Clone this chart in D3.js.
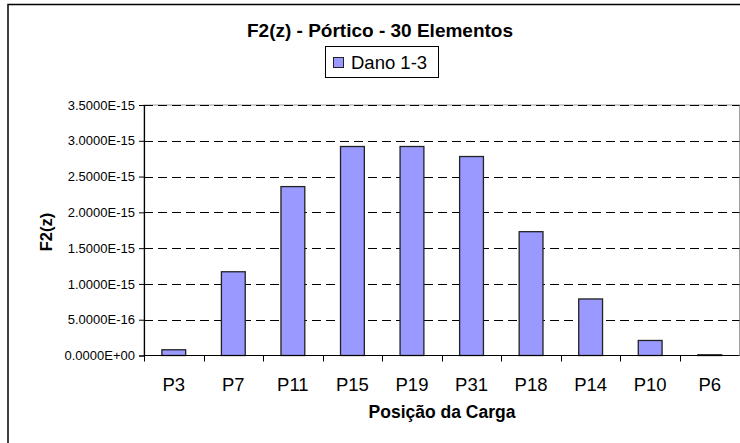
<!DOCTYPE html>
<html>
<head>
<meta charset="utf-8">
<script src="https://cdn.jsdelivr.net/npm/d3@7"></script>
<style>
  html, body { margin: 0; padding: 0; background: #fff; }
  svg { display: block; font-family: "Liberation Sans", Arial, sans-serif; }
</style>
</head>
<body>
<svg id="chart" width="740" height="443"></svg>
<script>
// Load positions along the frame and the F2(z) value for damage case 1-3
const categories = ["P3", "P7", "P11", "P15", "P19", "P31", "P18", "P14", "P10", "P6"];
const values = [8.0e-17, 1.17e-15, 2.36e-15, 2.92e-15, 2.92e-15, 2.78e-15, 1.73e-15, 7.9e-16, 2.1e-16, 1.0e-17];
const yTicks = [0, 5e-16, 1e-15, 1.5e-15, 2e-15, 2.5e-15, 3e-15, 3.5e-15];
const seriesName = "Dano 1-3";
const titleText = "F2(z) - Pórtico - 30 Elementos";
const xTitle = "Posição da Carga";
const yTitle = "F2(z)";

const svg = d3.select("#chart");
const W = 740, H = 443;
const plot = { left: 144, right: 739.5, top: 105, bottom: 355.5 };
const barFill = "#9999ff";

// Chart frame
svg.append("rect")
  .attr("x", 8).attr("y", 4.5)
  .attr("width", W + 20).attr("height", H + 20)
  .attr("fill", "#fff").attr("stroke", "#000").attr("stroke-width", 1.5);

const x = d3.scaleBand()
  .domain(categories)
  .range([plot.left, plot.right])
  .paddingInner(0.6)
  .paddingOuter(0.3);

const y = d3.scaleLinear()
  .domain([0, 3.5e-15])
  .range([plot.bottom, plot.top]);

const fmt = v => {
  const s = (+v).toExponential(4).toUpperCase();
  return s.replace(/E([+-])(\d)$/, "E$10$2");
};

// Plot area border
svg.append("rect")
  .attr("x", plot.left).attr("y", plot.top)
  .attr("width", plot.right - plot.left).attr("height", plot.bottom - plot.top)
  .attr("fill", "none").attr("stroke", "#a0a0a0").attr("stroke-width", 1);

// Dashed gridlines
svg.append("g")
  .selectAll("line")
  .data(yTicks.filter(d => d > 0))
  .join("line")
  .attr("x1", plot.left).attr("x2", plot.right)
  .attr("y1", d => Math.round(y(d)) + 0.5).attr("y2", d => Math.round(y(d)) + 0.5)
  .attr("stroke", "#000").attr("stroke-width", 1)
  .attr("stroke-dasharray", "9,5");

// Bars
svg.append("g")
  .selectAll("rect")
  .data(categories.map((c, i) => ({ c, v: values[i] })))
  .join("rect")
  .attr("x", d => x(d.c))
  .attr("y", d => y(d.v))
  .attr("width", x.bandwidth())
  .attr("height", d => y(0) - y(d.v))
  .attr("fill", barFill)
  .attr("stroke", "#222").attr("stroke-width", 1.3);

// Y axis
const yAxis = d3.axisLeft(y)
  .tickValues(yTicks)
  .tickFormat(fmt)
  .tickSize(5)
  .tickPadding(4);
const gy = svg.append("g")
  .attr("transform", `translate(${plot.left},0)`)
  .call(yAxis);
gy.select(".domain").attr("stroke", "#000").attr("stroke-width", 1.2);
gy.selectAll(".tick line").attr("stroke", "#000");
gy.selectAll(".tick text")
  .attr("fill", "#000")
  .style("font-size", "13px")
  .style("font-family", "'Liberation Sans', Arial, sans-serif");

// X axis with ticks on category boundaries
const gx = svg.append("g")
  .attr("transform", `translate(0,${plot.bottom})`);
gx.append("line")
  .attr("x1", plot.left).attr("x2", plot.right)
  .attr("y1", 0).attr("y2", 0)
  .attr("stroke", "#000").attr("stroke-width", 1.2);
const bounds = categories.map(c => x(c) - x.step() * x.paddingOuter()).concat([plot.right]);
gx.selectAll("line.tick")
  .data(bounds)
  .join("line")
  .attr("class", "tick")
  .attr("x1", d => Math.round(d) + 0.5).attr("x2", d => Math.round(d) + 0.5)
  .attr("y1", 0).attr("y2", 6)
  .attr("stroke", "#000");
gx.selectAll("text")
  .data(categories)
  .join("text")
  .attr("x", d => x(d) + x.bandwidth() / 2)
  .attr("y", 35)
  .attr("text-anchor", "middle")
  .style("font-size", "18.5px")
  .attr("fill", "#000")
  .text(d => d);

// Titles
svg.append("text")
  .attr("x", 380).attr("y", 37)
  .attr("text-anchor", "middle")
  .style("font-size", "19px").style("font-weight", "bold")
  .text(titleText);

svg.append("text")
  .attr("x", 442).attr("y", 418)
  .attr("text-anchor", "middle")
  .style("font-size", "17.5px").style("font-weight", "bold")
  .text(xTitle);

svg.append("text")
  .attr("transform", "translate(52,232) rotate(-90)")
  .attr("text-anchor", "middle")
  .style("font-size", "16.5px").style("font-weight", "bold")
  .text(yTitle);

// Legend
const lg = svg.append("g");
lg.append("rect")
  .attr("x", 325.5).attr("y", 46.5)
  .attr("width", 113).attr("height", 31)
  .attr("fill", "#fff").attr("stroke", "#000").attr("stroke-width", 1);
lg.append("rect")
  .attr("x", 333.5).attr("y", 57.5)
  .attr("width", 10).attr("height", 10)
  .attr("fill", barFill).attr("stroke", "#222").attr("stroke-width", 1);
lg.append("text")
  .attr("x", 351).attr("y", 69)
  .style("font-size", "18.5px")
  .text(seriesName);
</script>
</body>
</html>
